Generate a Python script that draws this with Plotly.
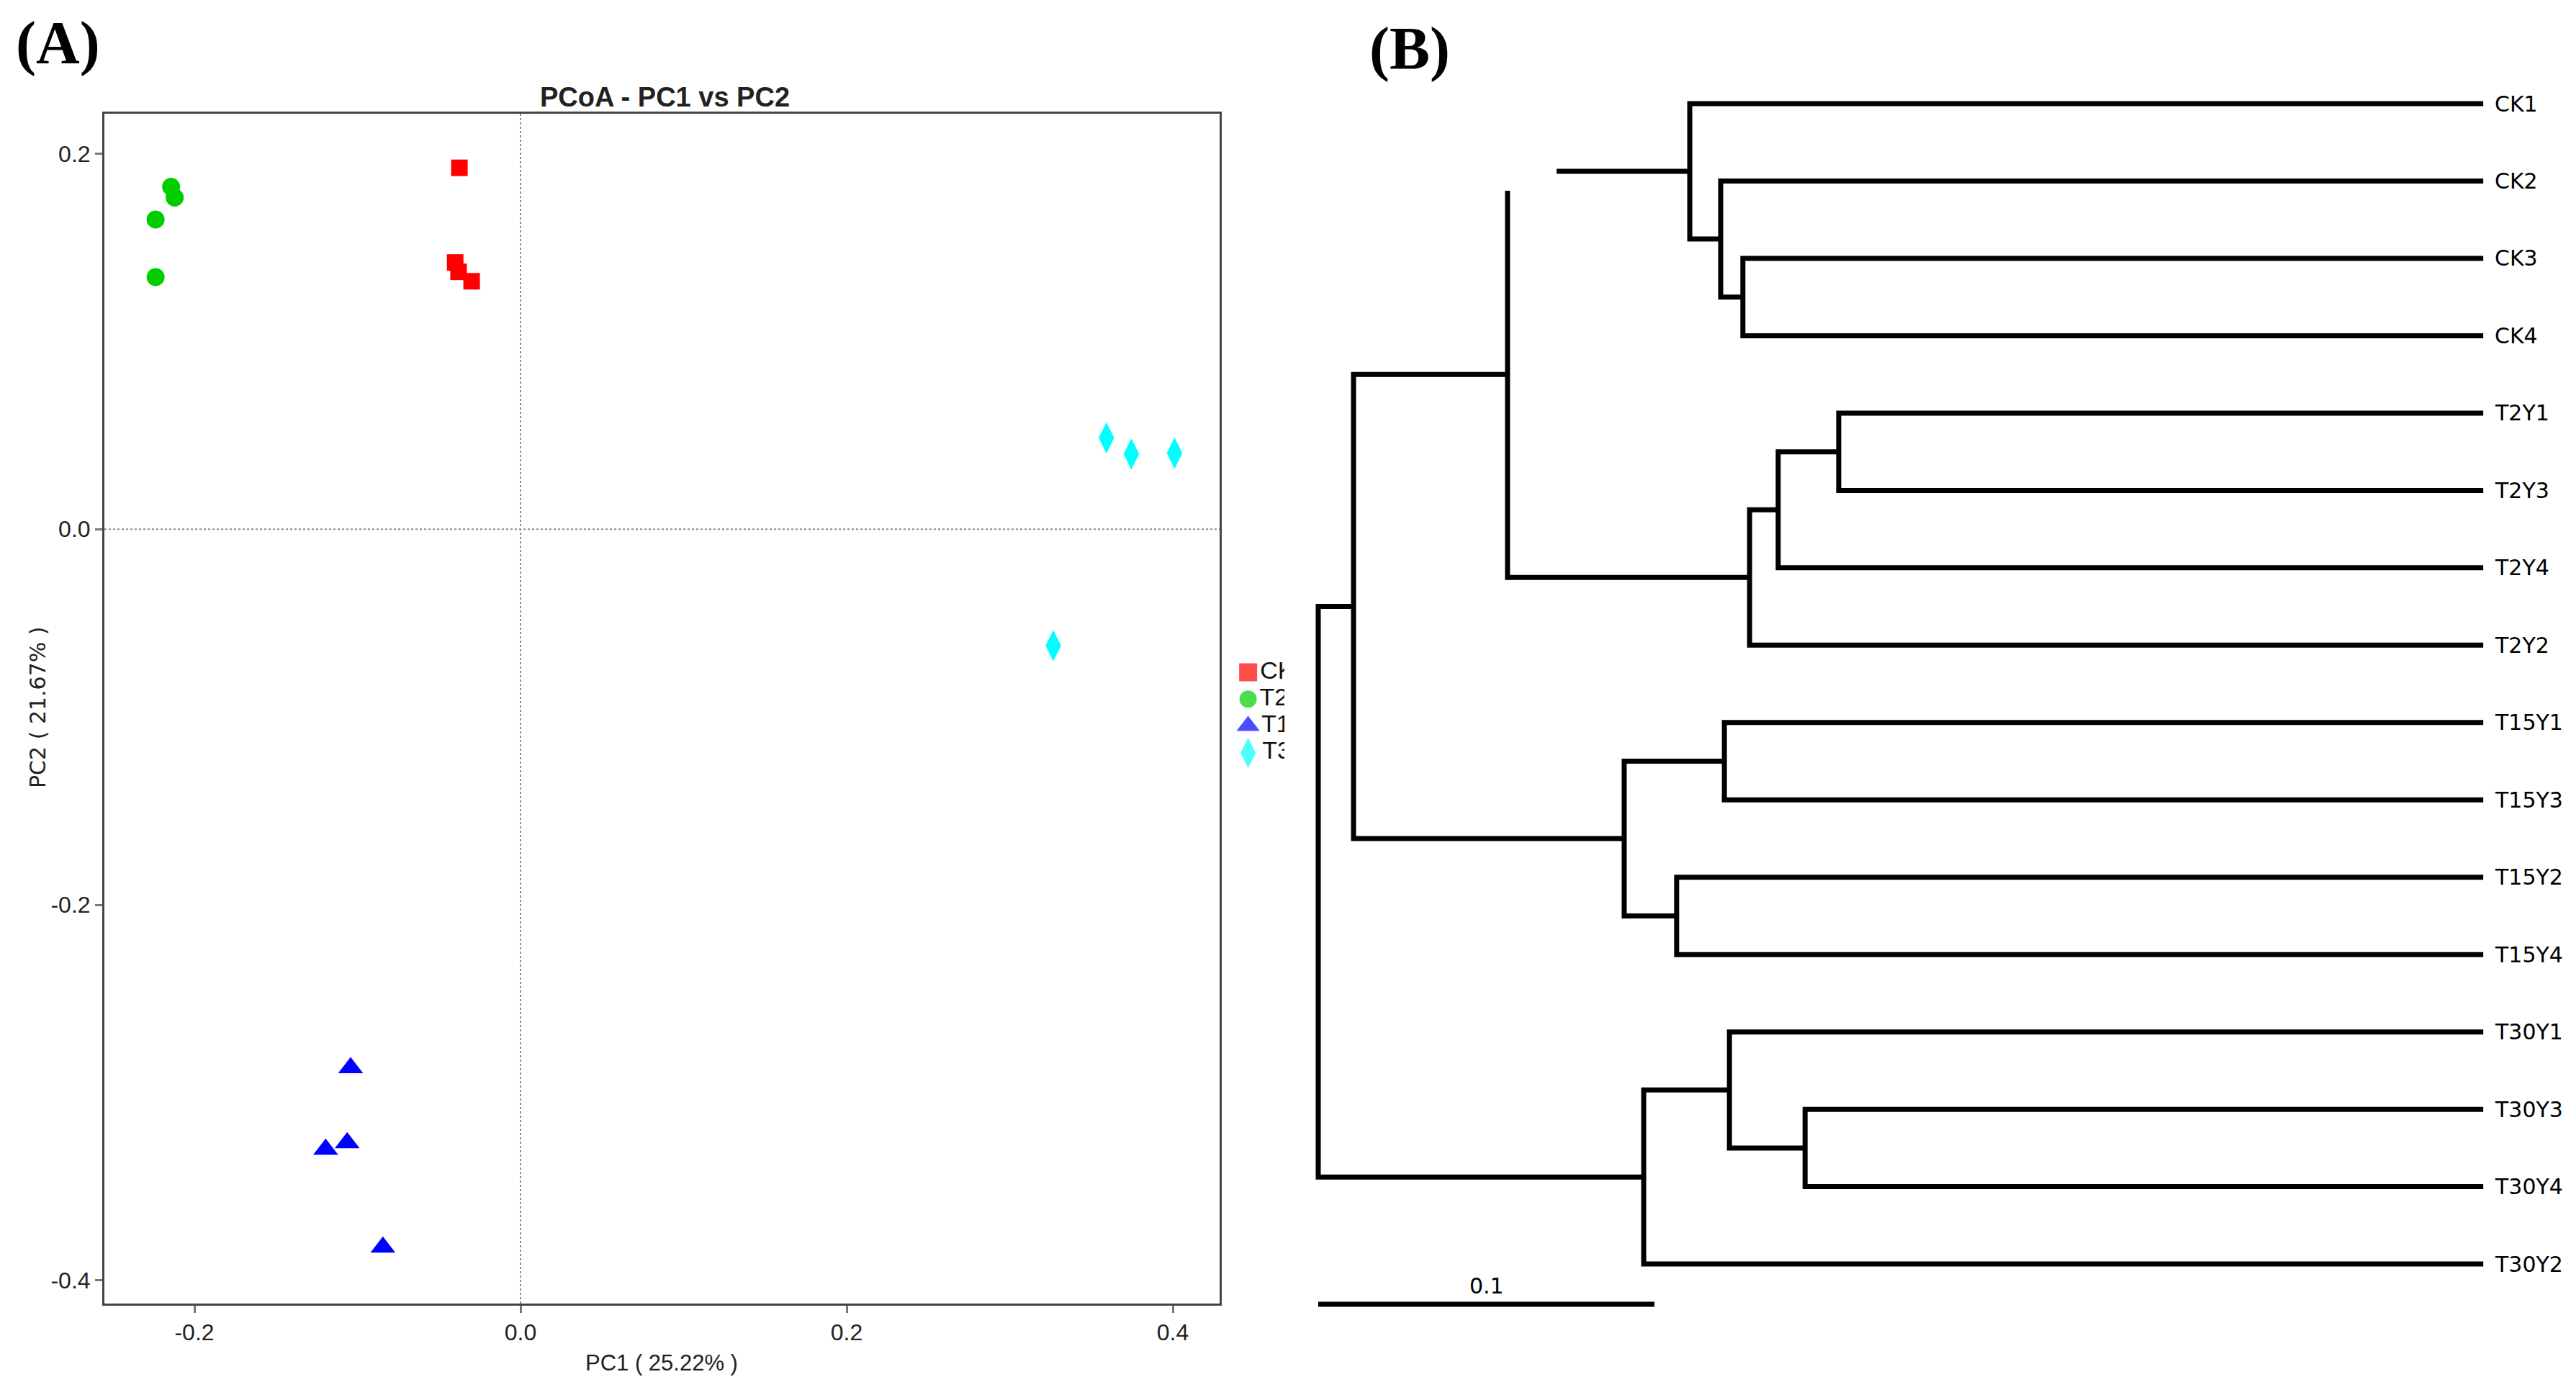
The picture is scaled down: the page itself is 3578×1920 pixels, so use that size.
"""PCoA scatter (A) and clustering dendrogram (B) of the soil samples"""
import plotly.graph_objects as go

# ---- panel A: PCoA scores ----
groups = ["CK", "T2", "T1", "T3"]
group_colors = ["#ff0000", "#00cd00", "#0000ff", "#00ffff"]
group_symbols = ["square", "circle", "triangle-up", "diamond-tall"]
group_sizes = [23, 25, 30, 31]

ck_pc1 = [-0.0375, -0.0401, -0.0380, -0.0300]
ck_pc2 = [0.1924, 0.1420, 0.1370, 0.1320]
t2_pc1 = [-0.2143, -0.2121, -0.2238, -0.2238]
t2_pc2 = [0.1823, 0.1766, 0.1649, 0.1342]
t15_pc1 = [-0.1042, -0.1063, -0.1195, -0.0844]
t15_pc2 = [-0.2868, -0.3267, -0.3302, -0.3823]
t30_pc1 = [0.3593, 0.3746, 0.4011, 0.3267]
t30_pc2 = [0.0486, 0.0400, 0.0405, -0.0620]

pc_ticks = [-0.4, -0.2, 0.0, 0.2, 0.4]
pc_tick_text = ["-0.4", "-0.2", "0.0", "0.2", "0.4"]

# ---- panel B: UPGMA-like tree (depth measured from the root) ----
leaf_labels = ["CK1", "CK2", "CK3", "CK4", "T2Y1", "T2Y3", "T2Y4", "T2Y2",
               "T15Y1", "T15Y3", "T15Y2", "T15Y4", "T30Y1", "T30Y3", "T30Y4", "T30Y2"]
leaf_depth = 0.3465
node_ids = ["ck34", "ck234", "ck", "t2_13", "t2_134", "t2", "ckt2",
            "t15_13", "t15_24", "t15", "upper", "t30_34", "t30_134", "t30", "root"]
node_left = ["CK3", "CK2", "CK1", "T2Y1", "t2_13", "t2_134", "ck",
             "T15Y1", "T15Y2", "t15_13", "ckt2", "T30Y3", "T30Y1", "t30_134", "upper"]
node_right = ["CK4", "ck34", "ck234", "T2Y3", "T2Y4", "T2Y2", "t2",
              "T15Y3", "T15Y4", "t15_24", "t15", "T30Y4", "t30_34", "T30Y2", "t30"]
node_depth = [0.1263, 0.1197, 0.1105, 0.1548, 0.1368, 0.1283, 0.0563,
              0.1208, 0.1066, 0.0910, 0.0105, 0.1448, 0.1223, 0.0968, 0.0]
scale_length = 0.1

FONT = "Liberation Sans, Arial, sans-serif"
SERIF = "Liberation Serif, Times New Roman, serif"
DEJAVU = "DejaVu Sans, sans-serif"
W, H = 3578, 1920
OFF = 8  # page body margin of the html output


def px(x):
    return (x - OFF) / W


def py(y):
    return 1 - (y - OFF) / H


fig = go.Figure()

pcoa_x = [ck_pc1, t2_pc1, t15_pc1, t30_pc1]
pcoa_y = [ck_pc2, t2_pc2, t15_pc2, t30_pc2]
for name, xs, ys, col, sym, sz in zip(groups, pcoa_x, pcoa_y, group_colors,
                                       group_symbols, group_sizes):
    fig.add_trace(go.Scatter(
        x=xs, y=ys, mode="markers", name=name, showlegend=False,
        marker=dict(color=col, symbol=sym, size=sz, line=dict(width=0)),
        xaxis="x", yaxis="y",
    ))

# hand-made legend, clipped at the right edge like the original
fig.add_trace(go.Scatter(
    x=[0.4] * len(groups), y=list(range(len(groups))), mode="markers+text",
    text=groups, textposition="middle right",
    textfont=dict(family=FONT, size=34, color="#111"),
    marker=dict(color=group_colors, symbol=group_symbols, size=[25, 24, 28, 30],
                line=dict(width=0)),
    cliponaxis=True, showlegend=False, xaxis="x3", yaxis="y3",
))

# dendrogram paths
pos = {lab: (leaf_depth, i) for i, lab in enumerate(leaf_labels)}
tx, ty = [], []
for nid, a, b, d in zip(node_ids, node_left, node_right, node_depth):
    (xa, ya), (xb, yb) = pos[a], pos[b]
    tx += [xa, d, d, xb, None]
    ty += [ya, ya, yb, yb, None]
    pos[nid] = (d, (ya + yb) / 2)

fig.add_trace(go.Scatter(
    x=tx, y=ty, mode="lines", line=dict(color="black", width=7),
    showlegend=False, hoverinfo="skip", xaxis="x2", yaxis="y2",
))
scale_y = 15.52
fig.add_trace(go.Scatter(
    x=[0, scale_length], y=[scale_y, scale_y], mode="lines",
    line=dict(color="black", width=7), showlegend=False, xaxis="x2", yaxis="y2",
))


def paper_text(text, x, y, font, **kw):
    return dict(text=text, x=px(x), y=py(y), xref="paper", yref="paper",
                xanchor="center", yanchor="middle", showarrow=False, font=font, **kw)


annotations = [
    paper_text("<b>(A)</b>", 80, 60, dict(family=SERIF, size=84, color="black")),
    paper_text("<b>(B)</b>", 1958, 68, dict(family=SERIF, size=84, color="black")),
    paper_text("<b>PCoA - PC1 vs PC2</b>", 923, 135,
               dict(family="Liberation Sans Narrow, Arial Narrow, Liberation Sans",
                    size=38, color="#222")),
    paper_text("PC1 ( 25.22% )", 919, 1893, dict(family=FONT, size=31, color="#222")),
    paper_text("PC2 ( 21.67% )", 52, 983, dict(family=DEJAVU, size=30, color="#222"),
               textangle=-90),
    dict(text="0.1", x=scale_length / 2, y=scale_y, xref="x2", yref="y2",
         xanchor="center", yanchor="bottom", yshift=6, showarrow=False,
         font=dict(family=DEJAVU, size=30, color="black")),
]
for i, lab in enumerate(leaf_labels):
    annotations.append(dict(
        text=lab, x=leaf_depth, y=i, xref="x2", yref="y2", xanchor="left",
        yanchor="middle", xshift=14, showarrow=False,
        font=dict(family=DEJAVU, size=30, color="black"),
    ))

shapes = [
    dict(type="line", xref="x", yref="y", x0=0, x1=0, y0=-0.4123, y1=0.2212,
         line=dict(color="#8c8c8c", width=2, dash="dot"), layer="below"),
    dict(type="line", xref="x", yref="y", x0=-0.2552, x1=0.4287, y0=0, y1=0,
         line=dict(color="#8c8c8c", width=2, dash="dot"), layer="below"),
    # white patch where the original tree image is broken
    dict(type="rect", xref="x2", yref="y2", x0=0.0546, x1=0.0709, y0=0.78, y1=1.126,
         fillcolor="white", line=dict(width=0), layer="above"),
]

axis_a = dict(showgrid=False, zeroline=False, showline=True, mirror=True,
              linecolor="#444", linewidth=3, ticks="outside", ticklen=10,
              tickwidth=3, tickcolor="#777",
              tickfont=dict(family=FONT, size=32, color="#222"))

fig.update_layout(
    width=W, height=H, paper_bgcolor="white", plot_bgcolor="white",
    margin=dict(l=0, r=0, t=0, b=0, pad=0),
    xaxis=dict(axis_a, domain=[px(145), px(1694)], range=[-0.2552, 0.4287],
               tickvals=pc_ticks, ticktext=pc_tick_text, anchor="y"),
    yaxis=dict(axis_a, domain=[py(1811), py(158)], range=[-0.4123, 0.2212],
               tickvals=pc_ticks, ticktext=pc_tick_text, anchor="x"),
    xaxis2=dict(visible=False, domain=[px(1780), px(3460)], range=[-0.01092, 0.34882],
                anchor="y2"),
    yaxis2=dict(visible=False, domain=[py(1880), py(40)], range=[16.153, -0.968],
                anchor="x2"),
    xaxis3=dict(visible=False, domain=[px(1700), px(1784)], range=[0, 1], anchor="y3"),
    yaxis3=dict(visible=False, domain=[py(1070), py(900)], range=[3.646, -0.912],
                anchor="x3"),
    annotations=annotations,
    shapes=shapes,
)

fig.write_html("out.html")
